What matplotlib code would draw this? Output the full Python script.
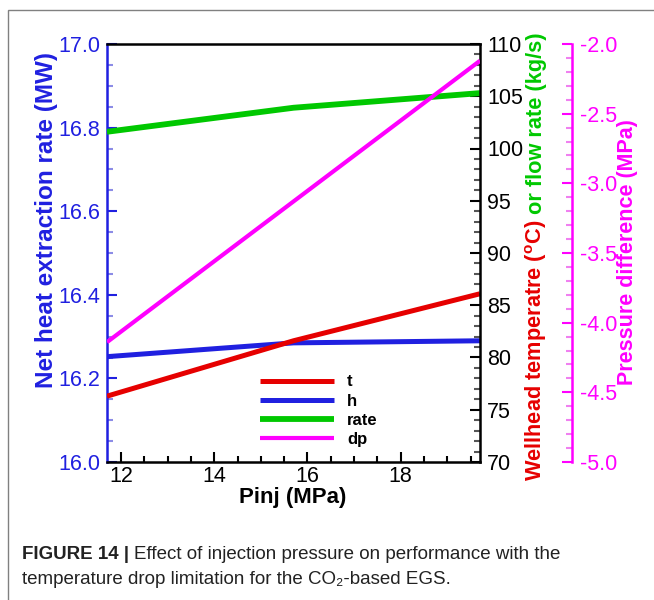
import matplotlib
matplotlib.use('Agg')
import matplotlib.pyplot as plt
from matplotlib.patches import Rectangle
from matplotlib.ticker import MultipleLocator, FormatStrFormatter

plt.rcParams['font.family'] = ['Liberation Sans', 'DejaVu Sans']
plt.rcParams['mathtext.fontset'] = 'custom'
plt.rcParams['mathtext.rm'] = 'Liberation Sans'
plt.rcParams['mathtext.bf'] = 'Liberation Sans:bold'
plt.rcParams['axes.unicode_minus'] = False

# injection pressure (MPa) and results
pinj = [11.7, 15.7, 19.7]
t_well = [76.3, 81.6, 86.1]        # wellhead temperature (C)
h_net = [16.252, 16.285, 16.290]   # net heat extraction rate (MW)
flow_rate = [101.6, 103.9, 105.3]  # flow rate (kg/s)
dp = [-4.14, -3.13, -2.12]         # pressure difference (MPa)

RED = '#e60000'
BLUE = '#2020e0'
GREEN = '#00c800'
MAGENTA = '#ff00ff'
TICK_FS = 15.5

W, H = 654, 600
fig = plt.figure(figsize=(W / 100, H / 100), dpi=100)

# outer frame
fig.add_artist(Rectangle((8 / W, -0.1), 1.2, 1.1 - 10 / H, transform=fig.transFigure,
                         fill=False, edgecolor='#808080', linewidth=1.0))

ax = fig.add_axes([107 / W, 138 / H, 373 / W, 418 / H])
ax2 = ax.twinx()
ax3 = ax.twinx()

l_t, = ax2.plot(pinj, t_well, color=RED, lw=3.6, solid_capstyle='butt')
l_rate, = ax2.plot(pinj, flow_rate, color=GREEN, lw=4.2, solid_capstyle='butt')
l_h, = ax.plot(pinj, h_net, color=BLUE, lw=3.6, solid_capstyle='butt')
l_dp, = ax3.plot(pinj, dp, color=MAGENTA, lw=3.0, solid_capstyle='butt')

ax.set_xlim(11.7, 19.7)
ax.set_ylim(16.0, 17.0)
ax2.set_ylim(70, 110)
ax3.set_ylim(-5.0, -2.0)

# left axis (blue)
ax.yaxis.set_major_locator(MultipleLocator(0.2))
ax.yaxis.set_minor_locator(MultipleLocator(0.05))
ax.yaxis.set_major_formatter(FormatStrFormatter('%.1f'))
ax.tick_params(axis='y', which='both', direction='in', colors=BLUE, labelsize=TICK_FS, width=1.5, pad=5)
ax.tick_params(axis='y', which='major', length=7)
ax.tick_params(axis='y', which='minor', length=4, colors='#8c8ce6')
ax.spines['left'].set_color(BLUE)
ax.spines['left'].set_linewidth(1.8)
ax.spines['right'].set_visible(False)

# bottom axis
ax.xaxis.set_major_locator(MultipleLocator(2))
ax.xaxis.set_minor_locator(MultipleLocator(0.5))
ax.tick_params(axis='x', which='both', direction='in', labelsize=TICK_FS, width=1.5, pad=3)
ax.tick_params(axis='x', which='major', length=7)
ax.tick_params(axis='x', which='minor', length=4)
for s in ['bottom', 'top']:
    ax.spines[s].set_linewidth(1.8)

# right axis: temperature / flow rate
ax2.yaxis.set_major_locator(MultipleLocator(5))
ax2.yaxis.set_minor_locator(MultipleLocator(1))
ax2.tick_params(axis='y', which='both', direction='in', labelsize=TICK_FS, width=1.5, pad=5)
ax2.tick_params(axis='y', which='major', length=7)
ax2.tick_params(axis='y', which='minor', length=4, colors='#555555')
ax2.spines['right'].set_linewidth(1.8)
for s in ['left', 'top', 'bottom']:
    ax2.spines[s].set_visible(False)

# outer right axis: pressure difference
ax3.spines['right'].set_position(('axes', (572 - 107) / 373))
ax3.spines['right'].set_color(MAGENTA)
ax3.spines['right'].set_linewidth(1.8)
for s in ['left', 'top', 'bottom']:
    ax3.spines[s].set_visible(False)
ax3.yaxis.set_major_locator(MultipleLocator(0.5))
ax3.yaxis.set_minor_locator(MultipleLocator(0.1))
ax3.yaxis.set_major_formatter(FormatStrFormatter('%.1f'))
ax3.tick_params(axis='y', which='both', direction='in', colors=MAGENTA, labelsize=TICK_FS, width=1.5, pad=6)
ax3.tick_params(axis='y', which='major', length=7)
ax3.tick_params(axis='y', which='minor', length=4, colors='#f080f0')

# axis titles
fig.text(47 / W, 1 - 220 / H, 'Net heat extraction rate (MW)', rotation=90, color=BLUE,
         fontsize=17.5, fontweight='bold', ha='center', va='center')
fig.text(293 / W, 1 - 498 / H, 'Pinj (MPa)', fontsize=16, fontweight='bold',
         ha='center', va='center')
fig.text(628 / W, 1 - 252 / H, 'Pressure difference (MPa)', rotation=90, color=MAGENTA,
         fontsize=15.5, fontweight='bold', ha='center', va='center')

x_lab = 542 / W
t_lab = fig.text(x_lab, 1 - 481 / H, r'Wellhead temperatre ($^{\mathbf{o}}$C)', rotation=90,
                 rotation_mode='anchor', color=RED, fontsize=15.7, fontweight='bold',
                 ha='left', va='baseline')
ax.annotate(' or flow rate (kg/s)', xy=(x_lab, 1), xycoords=('figure fraction', t_lab),
            rotation=90, rotation_mode='anchor', color=GREEN, fontsize=15.7,
            fontweight='bold', ha='left', va='baseline', annotation_clip=False)

# legend
ax3.legend([l_t, l_h, l_rate, l_dp], ['t', 'h', 'rate', 'dp'], loc='upper left',
           bbox_to_anchor=(252 / W, 1 - 366 / H), bbox_transform=fig.transFigure,
           frameon=False, prop={'weight': 'bold', 'size': 12}, handlelength=4.4,
           labelspacing=0.25, handletextpad=0.8, borderpad=0)

# caption
cap_font = ['Liberation Sans Narrow', 'Liberation Sans', 'DejaVu Sans']
fig_lab = fig.text(22 / W, 1 - 559 / H, 'FIGURE 14 | ', family=cap_font, fontsize=13.5,
                   fontweight='bold', ha='left', va='baseline', color='#222222')
ax.annotate('Effect of injection pressure on performance with the', xy=(1, 1 - 559 / H),
            xycoords=(fig_lab, 'figure fraction'), family=cap_font, fontsize=13.5,
            ha='left', va='baseline', color='#222222', annotation_clip=False)
fig.text(22 / W, 1 - 584 / H, 'temperature drop limitation for the CO\u2082-based EGS.',
         family=cap_font, fontsize=13.5, ha='left', va='baseline', color='#222222')

fig.savefig('out.png', dpi=100)
